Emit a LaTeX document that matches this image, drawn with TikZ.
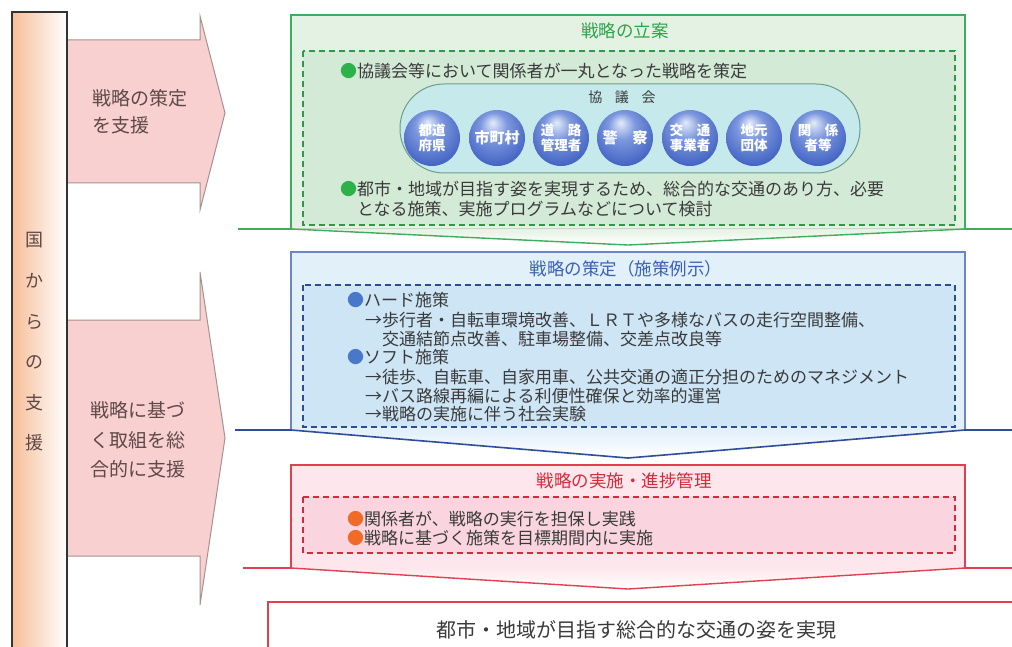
\documentclass[tikz,border=0pt]{standalone}
\usepackage{fontspec}
\setmainfont{Noto Sans CJK JP}
\usetikzlibrary{shadings}
\definecolor{gline}{HTML}{3DAE5B}
\definecolor{gfill}{HTML}{E4F2E4}
\definecolor{gin}{HTML}{D3EAD6}
\definecolor{gdash}{HTML}{2E9A48}
\definecolor{gtitle}{HTML}{2FA24A}
\definecolor{bline}{HTML}{6A86C6}
\definecolor{bflange}{HTML}{2E4E9C}
\definecolor{bfill}{HTML}{E2F0FA}
\definecolor{bin}{HTML}{CDE5F5}
\definecolor{bdash}{HTML}{2C4C94}
\definecolor{btitle}{HTML}{3A62B4}
\definecolor{rline}{HTML}{E04050}
\definecolor{rfill}{HTML}{FDE7EC}
\definecolor{rin}{HTML}{FAD5DF}
\definecolor{rdash}{HTML}{D8283C}
\definecolor{rtitle}{HTML}{D9283A}
\definecolor{txt}{HTML}{3A3A3A}
\definecolor{arrfill}{HTML}{F9D0D0}
\definecolor{arrline}{HTML}{A89090}
\definecolor{arrtxt}{HTML}{5E4848}
\definecolor{barL}{HTML}{F6BE98}
\definecolor{capfill}{HTML}{C6EAEC}
\definecolor{capline}{HTML}{6E9C8E}
\definecolor{bullg}{HTML}{2DB24A}
\definecolor{bullb}{HTML}{4A78C8}
\definecolor{bullr}{HTML}{F06A28}
\definecolor{cbhi}{HTML}{E4ECFB}
\definecolor{cbmid}{HTML}{7D98DE}
\definecolor{cbdark}{HTML}{4464C4}
\pgfdeclareradialshading{cball}{\pgfpoint{-4bp}{14bp}}{color(0bp)=(cbhi); color(12bp)=(cbmid); color(30bp)=(cbdark); color(50bp)=(cbdark)}
\tikzset{
  txtline/.style={anchor=west, inner sep=0, font=\fontsize{17}{19}\selectfont, text=txt},
  boxtitle/.style={inner sep=0, font=\fontsize{17.5}{20}\selectfont},
  dashbox/.style={line width=2, dash pattern=on 6 off 4},
  arrshape/.style={fill=arrfill, draw=arrline, line width=1},
  arrtext/.style={align=left, inner sep=0, text=arrtxt, font=\fontsize{19}{27.5}\selectfont},
  circ/.style={circle, minimum size=56, inner sep=0, shading=cball, text=white, align=center, font=\fontsize{13.5}{15}\selectfont\bfseries},
}
\begin{document}
\begin{tikzpicture}[x=1pt,y=-1pt]
\useasboundingbox (0,0) rectangle (1012,647);
\fill[white] (0,0) rectangle (1012,647);

% left support arrows
\path[arrshape] (67,40) -- (200,40) -- (200,16) -- (225,113) -- (200,210) -- (200,183) -- (67,183) -- cycle;
\path[arrshape] (67,320) -- (200,320) -- (200,272) -- (225,438) -- (200,605) -- (200,556) -- (67,556) -- cycle;
\node[arrtext] (a1) at (140,112) {戦略の策定\\を支援};
\node[arrtext, font=\fontsize{19}{29.5}\selectfont] (a2) at (138,440) {戦略に基づ\\く取組を総\\合的に支援};

% left bar
\path[draw=black!80, line width=1.6, left color=barL, right color=white] (12,12) rectangle (67,660);
\node[align=center, inner sep=0, text=arrtxt, font=\fontsize{18}{40.6}\selectfont] (kuni) at (34,342) {国\\か\\ら\\の\\支\\援};

% ===== green section =====
\fill[gfill] (291,15) rectangle (965,229);
\fill[top color=gfill, bottom color=white] (291,229) -- (965,229) -- (628,245) -- cycle;
\draw[gline, line width=1.4] (238,229) -- (291,229) -- (291,15) -- (965,15) -- (965,229) -- (1012,229);
\draw[gline, line width=1.4] (291,229) -- (628,245) -- (965,229);
\draw[gdash, dashbox, fill=gin] (303,51) rectangle (955,225);
\node[boxtitle, text=gtitle] (gt) at (625,31) {戦略の立案};
\node[txtline] (g1) at (340,71) {{\color{bullg}●}協議会等において関係者が一丸となった戦略を策定};
\draw[capline, line width=1, fill=capfill, rounded corners=44] (400,84) rectangle (860,173);
\node[inner sep=0, text=txt, font=\fontsize{14}{16}\selectfont] (kyo) at (622,97) {協\hspace{0.9em}議\hspace{0.9em}会};
\node[circ] (c1) at (432,138) {都道\\府県};
\node[circ, font=\fontsize{15}{16}\selectfont\bfseries] (c2) at (497,138) {市町村};
\node[circ] (c3) at (561,138) {道　路\\管理者};
\node[circ, font=\fontsize{15}{16}\selectfont\bfseries] (c4) at (625,138) {警　察};
\node[circ] (c5) at (690,138) {交　通\\事業者};
\node[circ] (c6) at (754,138) {地元\\団体};
\node[circ] (c7) at (818,138) {関　係\\者等};
\node[txtline] (g2) at (340,189) {{\color{bullg}●}都市・地域が目指す姿を実現するため、総合的な交通のあり方、必要};
\node[txtline] (g3) at (357,209) {となる施策、実施プログラムなどについて検討};

% ===== blue section =====
\fill[bfill] (291,252) rectangle (965,430);
\fill[top color=bfill, bottom color=white] (291,430) -- (965,430) -- (628,458) -- cycle;
\draw[bline, line width=1.4] (291,430) -- (291,252) -- (965,252) -- (965,430);
\draw[bflange, line width=1.6] (235,430) -- (291,430) -- (628,458) -- (965,430) -- (1012,430);
\draw[bdash, dashbox, fill=bin] (303,285) rectangle (955,427);
\node[boxtitle, text=btitle] (bt) at (626,269) {戦略の策定（施策例示）};
\node[txtline] (b1) at (347,300) {{\color{bullb}●}ハード施策};
\node[txtline] (b2) at (365,320) {→歩行者・自転車環境改善、ＬＲＴや多様なバスの走行空間整備、};
\node[txtline] (b3) at (382,339) {交通結節点改善、駐車場整備、交差点改良等};
\node[txtline] (b4) at (347,357) {{\color{bullb}●}ソフト施策};
\node[txtline] (b5) at (365,377) {→徒歩、自転車、自家用車、公共交通の適正分担のためのマネジメント};
\node[txtline] (b6) at (365,396) {→バス路線再編による利便性確保と効率的運営};
\node[txtline] (b7) at (365,414) {→戦略の実施に伴う社会実験};

% ===== pink section =====
\fill[rfill] (291,465) rectangle (965,568);
\fill[top color=rfill, bottom color=white] (291,568) -- (965,568) -- (628,589) -- cycle;
\draw[rline, line width=1.4] (243,568) -- (291,568) -- (291,465) -- (965,465) -- (965,568) -- (1012,568);
\draw[rline, line width=1.4] (291,568) -- (628,589) -- (965,568);
\draw[rdash, dashbox, fill=rin] (303,497) rectangle (955,553);
\node[boxtitle, text=rtitle] (rt) at (624,481) {戦略の実施・進捗管理};
\node[txtline] (p1) at (347,519) {{\color{bullr}●}関係者が、戦略の実行を担保し実践};
\node[txtline] (p2) at (347,538) {{\color{bullr}●}戦略に基づく施策を目標期間内に実施};

% ===== goal box =====
\draw[rline, line width=2.2, fill=white] (268,602) rectangle (1020,662);
\node[inner sep=0, text=txt, font=\fontsize{20}{22}\selectfont] (goal) at (636,630) {都市・地域が目指す総合的な交通の姿を実現};
\end{tikzpicture}
\end{document}
